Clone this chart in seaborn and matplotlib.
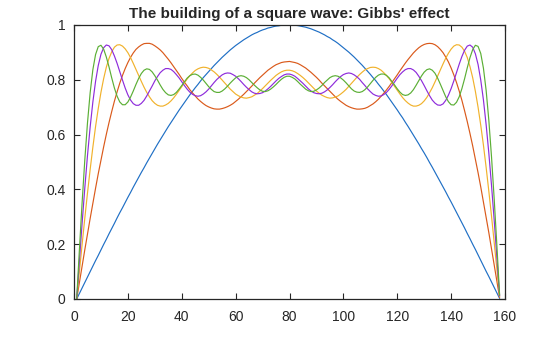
import numpy as np
import matplotlib
matplotlib.use("Agg")
import matplotlib.pyplot as plt
import seaborn as sns

# Partial Fourier sums of a square wave (1, 3, 5, 7 and 9 odd harmonics), 158 samples each
sum_1 = [0.000, 0.020, 0.040, 0.060, 0.080, 0.100, 0.120, 0.140, 0.159, 0.179,
         0.199, 0.218, 0.238, 0.257, 0.276, 0.296, 0.315, 0.333, 0.352, 0.371,
         0.389, 0.408, 0.426, 0.444, 0.462, 0.479, 0.497, 0.514, 0.531, 0.548,
         0.565, 0.581, 0.597, 0.613, 0.629, 0.644, 0.659, 0.674, 0.689, 0.703,
         0.717, 0.731, 0.745, 0.758, 0.771, 0.783, 0.796, 0.808, 0.819, 0.830,
         0.841, 0.852, 0.862, 0.872, 0.882, 0.891, 0.900, 0.909, 0.917, 0.925,
         0.932, 0.939, 0.946, 0.952, 0.958, 0.964, 0.969, 0.973, 0.978, 0.982,
         0.985, 0.989, 0.991, 0.994, 0.996, 0.997, 0.999, 0.999, 1.000, 1.000,
         1.000, 0.999, 0.998, 0.996, 0.994, 0.992, 0.989, 0.986, 0.982, 0.978,
         0.974, 0.969, 0.964, 0.958, 0.953, 0.946, 0.940, 0.933, 0.925, 0.917,
         0.909, 0.901, 0.892, 0.883, 0.873, 0.863, 0.853, 0.842, 0.831, 0.820,
         0.808, 0.797, 0.784, 0.772, 0.759, 0.746, 0.732, 0.718, 0.704, 0.690,
         0.675, 0.661, 0.645, 0.630, 0.614, 0.598, 0.582, 0.566, 0.549, 0.533,
         0.516, 0.498, 0.481, 0.463, 0.445, 0.427, 0.409, 0.391, 0.372, 0.354,
         0.335, 0.316, 0.297, 0.278, 0.259, 0.239, 0.220, 0.200, 0.181, 0.161,
         0.141, 0.121, 0.101, 0.082, 0.062, 0.042, 0.022, 0.002]

sum_3 = [0.000, 0.060, 0.120, 0.179, 0.237, 0.294, 0.350, 0.404, 0.457, 0.507,
         0.555, 0.601, 0.644, 0.684, 0.722, 0.756, 0.788, 0.816, 0.841, 0.863,
         0.882, 0.898, 0.911, 0.920, 0.927, 0.932, 0.933, 0.933, 0.930, 0.924,
         0.917, 0.909, 0.899, 0.887, 0.875, 0.862, 0.848, 0.834, 0.820, 0.805,
         0.791, 0.778, 0.764, 0.752, 0.741, 0.730, 0.721, 0.713, 0.706, 0.701,
         0.697, 0.694, 0.693, 0.693, 0.695, 0.698, 0.702, 0.707, 0.713, 0.721,
         0.729, 0.738, 0.747, 0.757, 0.767, 0.777, 0.788, 0.798, 0.808, 0.817,
         0.826, 0.835, 0.842, 0.849, 0.855, 0.859, 0.863, 0.865, 0.866, 0.867,
         0.865, 0.863, 0.860, 0.855, 0.849, 0.843, 0.835, 0.827, 0.818, 0.809,
         0.799, 0.788, 0.778, 0.768, 0.758, 0.748, 0.738, 0.729, 0.721, 0.714,
         0.707, 0.702, 0.698, 0.695, 0.693, 0.693, 0.694, 0.696, 0.700, 0.706,
         0.712, 0.720, 0.729, 0.740, 0.751, 0.763, 0.776, 0.790, 0.804, 0.818,
         0.833, 0.847, 0.861, 0.874, 0.886, 0.898, 0.908, 0.917, 0.924, 0.929,
         0.932, 0.933, 0.932, 0.928, 0.921, 0.911, 0.899, 0.883, 0.865, 0.843,
         0.818, 0.790, 0.759, 0.725, 0.687, 0.647, 0.604, 0.559, 0.511, 0.461,
         0.409, 0.354, 0.299, 0.242, 0.183, 0.124, 0.065, 0.005]

sum_5 = [0.000, 0.100, 0.198, 0.294, 0.386, 0.473, 0.554, 0.629, 0.695, 0.754,
         0.804, 0.846, 0.878, 0.902, 0.919, 0.927, 0.928, 0.923, 0.913, 0.899,
         0.881, 0.860, 0.838, 0.816, 0.794, 0.773, 0.754, 0.738, 0.724, 0.714,
         0.707, 0.704, 0.704, 0.708, 0.714, 0.723, 0.734, 0.747, 0.761, 0.775,
         0.789, 0.803, 0.815, 0.825, 0.834, 0.840, 0.844, 0.846, 0.845, 0.842,
         0.836, 0.829, 0.820, 0.810, 0.799, 0.788, 0.777, 0.766, 0.757, 0.748,
         0.742, 0.737, 0.734, 0.733, 0.735, 0.738, 0.744, 0.750, 0.759, 0.768,
         0.778, 0.788, 0.798, 0.807, 0.816, 0.823, 0.829, 0.833, 0.835, 0.835,
         0.833, 0.829, 0.823, 0.816, 0.808, 0.799, 0.789, 0.779, 0.769, 0.759,
         0.751, 0.744, 0.739, 0.735, 0.733, 0.734, 0.737, 0.741, 0.748, 0.756,
         0.765, 0.776, 0.787, 0.798, 0.809, 0.819, 0.828, 0.836, 0.841, 0.845,
         0.846, 0.845, 0.841, 0.835, 0.826, 0.816, 0.804, 0.790, 0.776, 0.762,
         0.748, 0.735, 0.724, 0.715, 0.708, 0.704, 0.704, 0.707, 0.713, 0.723,
         0.736, 0.753, 0.771, 0.792, 0.814, 0.836, 0.858, 0.879, 0.897, 0.912,
         0.923, 0.928, 0.927, 0.919, 0.904, 0.881, 0.848, 0.808, 0.758, 0.700,
         0.634, 0.561, 0.480, 0.393, 0.302, 0.206, 0.108, 0.008]

sum_7 = [0.000, 0.139, 0.275, 0.404, 0.523, 0.628, 0.719, 0.794, 0.852, 0.893,
         0.917, 0.927, 0.924, 0.910, 0.887, 0.860, 0.829, 0.799, 0.770, 0.745,
         0.726, 0.713, 0.707, 0.707, 0.714, 0.725, 0.741, 0.759, 0.777, 0.796,
         0.812, 0.826, 0.835, 0.841, 0.841, 0.838, 0.830, 0.819, 0.807, 0.793,
         0.779, 0.766, 0.755, 0.747, 0.742, 0.740, 0.742, 0.748, 0.756, 0.766,
         0.778, 0.790, 0.801, 0.810, 0.818, 0.823, 0.825, 0.824, 0.819, 0.813,
         0.804, 0.794, 0.783, 0.773, 0.764, 0.756, 0.751, 0.749, 0.750, 0.753,
         0.759, 0.767, 0.776, 0.786, 0.796, 0.805, 0.812, 0.818, 0.821, 0.821,
         0.818, 0.813, 0.805, 0.796, 0.787, 0.777, 0.767, 0.759, 0.753, 0.750,
         0.749, 0.751, 0.756, 0.763, 0.772, 0.782, 0.793, 0.803, 0.812, 0.819,
         0.823, 0.825, 0.823, 0.818, 0.811, 0.802, 0.790, 0.779, 0.767, 0.757,
         0.748, 0.743, 0.740, 0.741, 0.746, 0.754, 0.765, 0.778, 0.792, 0.806,
         0.819, 0.829, 0.837, 0.841, 0.841, 0.836, 0.827, 0.813, 0.797, 0.779,
         0.760, 0.742, 0.726, 0.715, 0.708, 0.707, 0.712, 0.725, 0.744, 0.768,
         0.796, 0.827, 0.857, 0.885, 0.908, 0.923, 0.927, 0.919, 0.895, 0.856,
         0.799, 0.726, 0.636, 0.532, 0.414, 0.286, 0.150, 0.011]

sum_9 = [0.000, 0.179, 0.350, 0.506, 0.642, 0.753, 0.837, 0.892, 0.921, 0.926,
         0.912, 0.883, 0.847, 0.807, 0.770, 0.740, 0.719, 0.709, 0.709, 0.719,
         0.737, 0.759, 0.783, 0.805, 0.823, 0.835, 0.840, 0.838, 0.829, 0.815,
         0.799, 0.781, 0.765, 0.753, 0.745, 0.743, 0.746, 0.754, 0.766, 0.779,
         0.793, 0.806, 0.815, 0.820, 0.821, 0.817, 0.809, 0.799, 0.787, 0.775,
         0.765, 0.757, 0.754, 0.754, 0.759, 0.767, 0.777, 0.788, 0.798, 0.807,
         0.813, 0.815, 0.813, 0.808, 0.800, 0.790, 0.780, 0.771, 0.763, 0.758,
         0.757, 0.760, 0.766, 0.774, 0.783, 0.793, 0.802, 0.809, 0.813, 0.813,
         0.809, 0.803, 0.794, 0.784, 0.775, 0.766, 0.760, 0.757, 0.758, 0.763,
         0.770, 0.779, 0.790, 0.799, 0.808, 0.813, 0.815, 0.813, 0.807, 0.799,
         0.789, 0.778, 0.767, 0.759, 0.755, 0.754, 0.757, 0.764, 0.774, 0.786,
         0.798, 0.809, 0.817, 0.821, 0.821, 0.816, 0.807, 0.794, 0.781, 0.767,
         0.755, 0.746, 0.743, 0.745, 0.752, 0.764, 0.780, 0.797, 0.814, 0.828,
         0.837, 0.840, 0.835, 0.824, 0.806, 0.784, 0.761, 0.738, 0.720, 0.709,
         0.708, 0.718, 0.738, 0.768, 0.804, 0.844, 0.881, 0.910, 0.926, 0.922,
         0.896, 0.842, 0.761, 0.652, 0.518, 0.363, 0.193, 0.014]

series_names = ["1 term", "3 terms", "5 terms", "7 terms", "9 terms"]
series_values = [sum_1, sum_3, sum_5, sum_7, sum_9]
x_tick_values = [0, 20, 40, 60, 80, 100, 120, 140, 160]
x_tick_labels = ["0", "20", "40", "60", "80", "100", "120", "140", "160"]
y_tick_values = [0, 0.2, 0.4, 0.6, 0.8, 1]
y_tick_labels = ["0", "0.2", "0.4", "0.6", "0.8", "1"]
title_text = "The building of a square wave: Gibbs' effect"

sns.set_style("ticks")
plt.rcParams['font.family'] = ['Liberation Sans', 'DejaVu Sans']

fig = plt.figure(figsize=(5.6, 3.37), dpi=100)
left, right, bottom, top = 74 / 560, 505 / 560, 38 / 337, 312 / 337
ax = fig.add_axes([left, bottom, right - left, top - bottom])

colors = ["#1F6FC5", "#DA5A1B", "#F1B22C", "#8E2CDB", "#5BAF35"]
for vals, c in zip(series_values, colors):
    sample = np.arange(1, len(vals) + 1)
    sns.lineplot(x=sample, y=vals, color=c, lw=0.85, ax=ax)

ax.set_xlim(0, 160)
ax.set_ylim(0, 1)
ax.set_xticks(x_tick_values)
ax.set_xticklabels(x_tick_labels)
ax.set_yticks(y_tick_values)
ax.set_yticklabels(y_tick_labels)
ax.tick_params(direction="in", top=True, right=True, length=4, width=0.8,
               labelsize=10, colors="#262626")
ax.tick_params(axis="x", pad=8)
ax.tick_params(axis="y", pad=6)
for sp in ax.spines.values():
    sp.set_visible(True)
    sp.set_color("#262626")
    sp.set_linewidth(0.9)
ax.set_title(title_text, fontsize=11, fontweight="bold", color="#262626", pad=5)

fig.savefig("out.png", dpi=100)
